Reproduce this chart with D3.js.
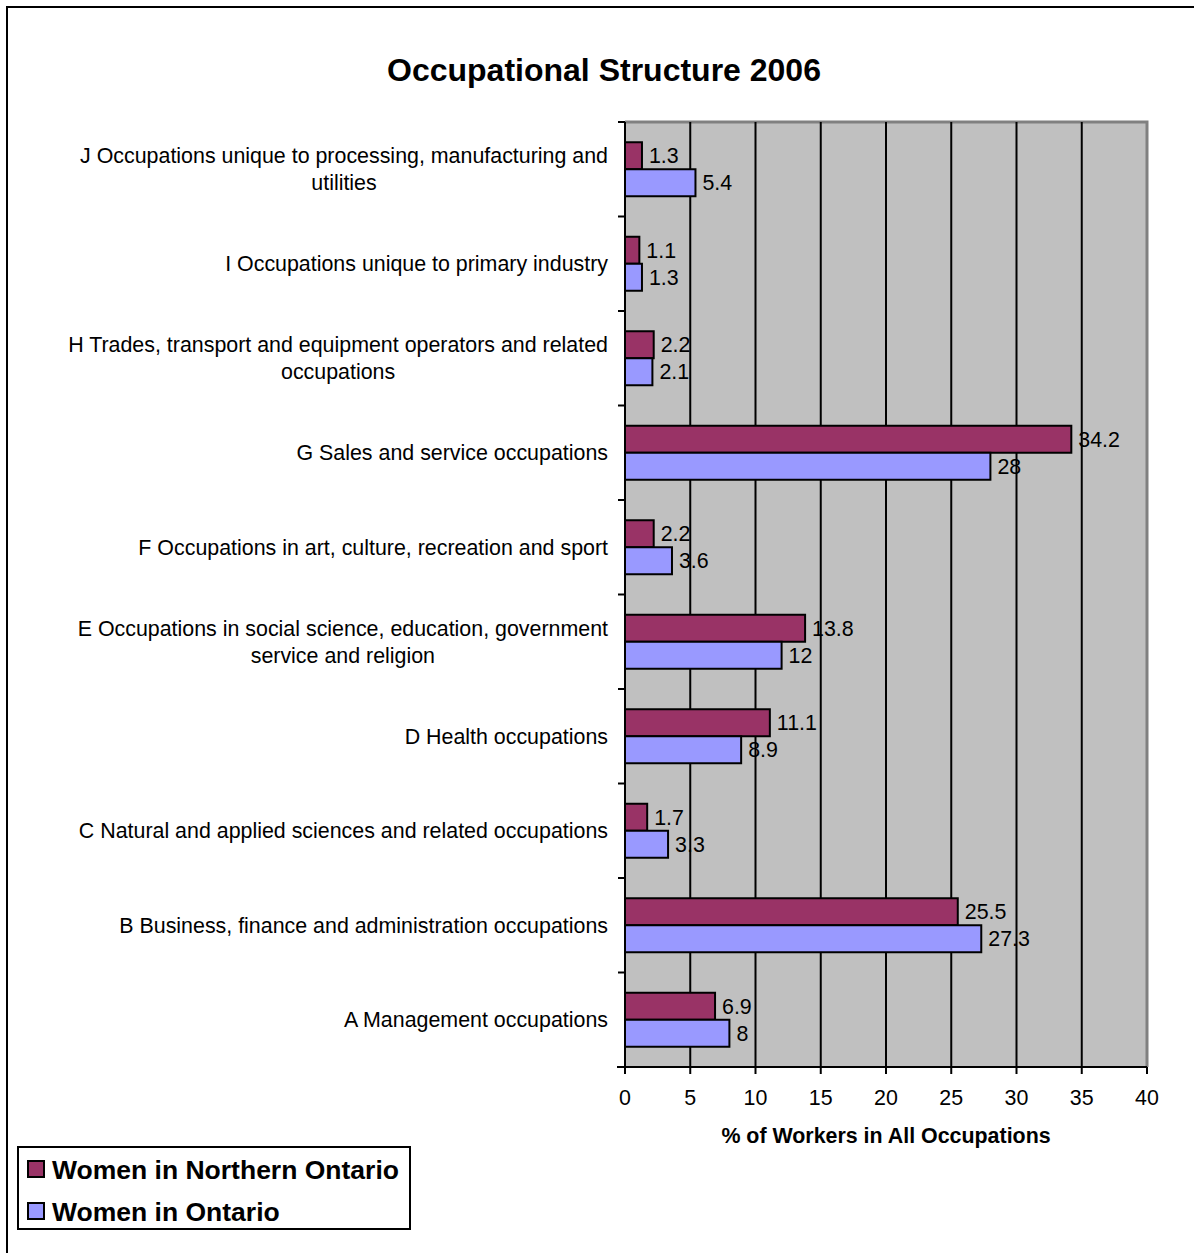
<!DOCTYPE html>
<html><head><meta charset="utf-8">
<script src="https://cdn.jsdelivr.net/npm/d3@7"></script>
<style>body{margin:0;background:#fff;}svg{display:block;font-family:"Liberation Sans",Arial,sans-serif;}</style>
</head><body>
<script>
const categories = [
  "J Occupations unique to processing, manufacturing and|utilities",
  "I Occupations unique to primary industry",
  "H Trades, transport and equipment operators and related|occupations",
  "G Sales and service occupations",
  "F Occupations in art, culture, recreation and sport",
  "E Occupations in social science, education, government|service and religion",
  "D Health occupations",
  "C Natural and applied sciences and related occupations",
  "B Business, finance and administration occupations",
  "A Management occupations"
];
const northern = [1.3, 1.1, 2.2, 34.2, 2.2, 13.8, 11.1, 1.7, 25.5, 6.9];
const ontario  = [5.4, 1.3, 2.1, 28, 3.6, 12, 8.9, 3.3, 27.3, 8];
const seriesNames = ["Women in Northern Ontario", "Women in Ontario"];
const seriesColors = ["#993366", "#9999FF"];
const xTicks = [0,5,10,15,20,25,30,35,40];

const W = 1194, H = 1253;
const FS = 21.4;
const svg = d3.select("body").append("svg").attr("width", W).attr("height", H);

// outer border
svg.append("rect").attr("x",7).attr("y",7).attr("width",W+20).attr("height",H+20)
  .attr("fill","none").attr("stroke","#000").attr("stroke-width",2);

// title
svg.append("text").attr("x",604).attr("y",81).attr("text-anchor","middle")
  .attr("font-size",32).attr("font-weight","bold").text("Occupational Structure 2006");

const L = 625, R = 1147, T = 122, B = 1067;
const x = d3.scaleLinear().domain([0,40]).range([L,R]);
const y = d3.scaleBand().domain(categories).range([T,B]).paddingInner(0).paddingOuter(0);
const sub = d3.scaleBand().domain([0,1]).range([0, y.bandwidth()]).paddingOuter(0.75).paddingInner(0);

// plot background
svg.append("rect").attr("x",L).attr("y",T).attr("width",R-L).attr("height",B-T).attr("fill","#C0C0C0");
// top & right gray border
svg.append("path").attr("d",`M${L},${T}H${R}V${B}`).attr("fill","none").attr("stroke","#808080").attr("stroke-width",3);

// gridlines
svg.append("g").selectAll("line").data(xTicks.filter(d=>d>0&&d<40)).join("line")
  .attr("x1",d=>x(d)).attr("x2",d=>x(d)).attr("y1",T).attr("y2",B)
  .attr("stroke","#000").attr("stroke-width",2);

// bars
const data = categories.map((c,i)=>({c, vals:[northern[i], ontario[i]]}));
const g = svg.append("g");
data.forEach(d=>{
  d.vals.forEach((v,k)=>{
    const yy = y(d.c)+sub(k);
    g.append("rect").attr("x",x(0)).attr("y",yy).attr("width",x(v)-x(0)).attr("height",sub.bandwidth())
      .attr("fill",seriesColors[k]).attr("stroke","#000").attr("stroke-width",2);
  });
});
data.forEach(d=>{
  d.vals.forEach((v,k)=>{
    const yy = y(d.c)+sub(k);
    g.append("text").attr("x",x(v)+7).attr("y",yy+sub.bandwidth()/2).attr("dy","0.36em")
      .attr("font-size",FS).attr("fill","#000").text(v);
  });
});

// y axis
const yAxis = svg.append("g").attr("transform",`translate(${L},0)`);
yAxis.append("line").attr("x1",0).attr("x2",0).attr("y1",T).attr("y2",B).attr("stroke","#000").attr("stroke-width",2);
const yTickPos = d3.range(categories.length+1).map(i=> T + i*y.step());
yAxis.selectAll("line.t").data(yTickPos).join("line").attr("class","t")
  .attr("x1",-7).attr("x2",0).attr("y1",d=>d).attr("y2",d=>d).attr("stroke","#000").attr("stroke-width",2);

// category labels
categories.forEach(c=>{
  const lines = c.split("|");
  const cy = y(c)+y.bandwidth()/2;
  const lh = 27;
  const t = svg.append("text").attr("font-size",FS).attr("fill","#000");
  if(lines.length===1){
    t.attr("x",608).attr("y",cy).attr("dy","0.34em").attr("text-anchor","end").text(lines[0]);
  } else {
    const tmp = svg.append("text").attr("font-size",FS);
    let maxw = 0;
    lines.forEach(l=>{ tmp.text(l); maxw = Math.max(maxw, tmp.node().getComputedTextLength()); });
    tmp.remove();
    const cx = 608 - maxw/2;
    t.attr("text-anchor","middle");
    lines.forEach((l,i)=>{
      t.append("tspan").attr("x",cx).attr("y",cy + (i-(lines.length-1)/2)*lh).attr("dy","0.34em").text(l);
    });
  }
});

// x axis
const xAxis = svg.append("g").attr("transform",`translate(0,${B})`);
xAxis.append("line").attr("x1",L-8).attr("x2",R).attr("y1",0).attr("y2",0).attr("stroke","#000").attr("stroke-width",2);
xAxis.selectAll("line.t").data(xTicks).join("line").attr("class","t")
  .attr("x1",d=>x(d)).attr("x2",d=>x(d)).attr("y1",0).attr("y2",7).attr("stroke","#000").attr("stroke-width",2);
xAxis.selectAll("text").data(xTicks).join("text").attr("x",d=>x(d)).attr("y",38)
  .attr("text-anchor","middle").attr("font-size",FS).text(d=>d);

svg.append("text").attr("x",(L+R)/2).attr("y",1143).attr("text-anchor","middle")
  .attr("font-size",FS).attr("font-weight","bold").text("% of Workers in All Occupations");

// legend
const lg = svg.append("g");
lg.append("rect").attr("x",18).attr("y",1147).attr("width",392).attr("height",82)
  .attr("fill","#fff").attr("stroke","#000").attr("stroke-width",2);
seriesNames.forEach((n,i)=>{
  const yy = 1169 + i*42;
  lg.append("rect").attr("x",28).attr("y",yy-8).attr("width",16).attr("height",16)
    .attr("fill",seriesColors[i]).attr("stroke","#000").attr("stroke-width",2);
  lg.append("text").attr("x",52).attr("y",yy).attr("dy","0.36em").attr("font-size",26.5)
    .attr("font-weight","bold").text(n);
});
</script>
</body></html>
